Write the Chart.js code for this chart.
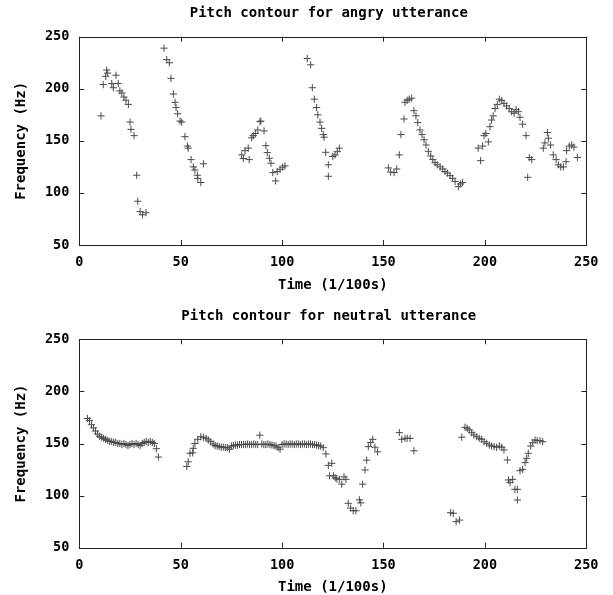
<!DOCTYPE html>
<html>
<head>
<meta charset="utf-8">
<script src="https://cdn.jsdelivr.net/npm/chart.js@4/dist/chart.umd.min.js"></script>
<style>
  html, body { margin: 0; padding: 0; background: #fff; }
  #wrap { position: relative; width: 613px; height: 595px; }
  .box { position: absolute; left: 0; width: 613px; }
</style>
</head>
<body>
<div id="wrap">
  <div class="box" style="top:0;height:298px;"><canvas id="c1"></canvas></div>
  <div class="box" style="top:298px;height:297px;"><canvas id="c2"></canvas></div>
</div>
<script>
// ---------- DATA ----------
const xTicks = [0, 50, 100, 150, 200, 250];
const yTicks = [50, 100, 150, 200, 250];

const angryTime = [
  10.7, 11.8, 13, 13.5, 14, 16, 16.8, 18.1, 19.2, 20, 21, 22, 23, 24.2, 25, 25.5, 27, 28.3, 28.8, 30, 31.2, 32.9,
  41.8, 43.1, 44.4, 45.2, 46.4, 47.2, 47.7, 48.5, 49.7, 50.5, 52.1, 53.3, 53.7, 55.1, 56.2, 57, 58.2, 58.4, 59.9, 61.2,
  80.1, 80.9, 81.7, 83.3, 83.8, 85, 85.8, 86.8, 88, 89.1, 89.5, 91.1, 92, 92.7, 93.7, 94.5, 95.4, 96.8, 97.6, 99, 100.3, 101.4,
  112.4, 114.1, 114.9, 115.9, 117, 117.6, 118.7, 119.5, 120.3, 120.7, 121.5, 122.8, 122.8, 125, 126.1, 127.2, 128.2,
  152.4, 153.5, 155.2, 156.5, 157.8, 158.6, 160.1, 160.6, 161.7, 162.7, 163.9, 165, 166, 166.9, 168, 169, 170, 171, 172.1,
  173.3, 174.3, 175.4, 176.5, 177.9, 179.2, 180.3, 181.5, 182.8, 184.1, 185.3, 186.9, 188, 189,
  196.7, 197.9, 198.9, 199.6, 200.5, 201.7, 202.5, 203.3, 204.1, 205, 206.1, 207.1, 208.3, 209.4, 210.7, 212, 213.2, 214.4,
  215.4, 216.5, 217.3, 218.6, 220.3, 221.1, 221.9, 223.1,
  228.8, 229.6, 230.8, 231.3, 232.4, 233.7, 235.1, 236.2, 237.4, 238.7, 240, 240.3, 241.6, 242.8, 243.9, 245.6
];
const angryFreq = [
  174, 204, 212, 218, 215, 205, 201, 213, 205, 198, 196, 192, 189, 185, 168, 161, 155, 117, 92, 82, 79, 81,
  239, 228, 225, 210, 195, 187, 182, 176, 169, 168, 154, 145, 143, 132, 125, 122, 117, 114, 110, 128,
  136.5, 133, 140.6, 143, 132, 153, 155, 157, 160.5, 168.4, 169, 159.5, 145.4, 138.7, 133.3, 128.5, 119.5, 111.5, 120.5, 122.7, 124.7, 126,
  229, 223, 201, 190, 182, 175, 168, 162, 156, 153.5, 139, 127, 116, 135, 136.5, 139.6, 143,
  124, 120, 119.5, 123, 136.5, 156, 171, 187, 189, 190, 191, 179, 174, 167.5, 160.5, 156, 151, 146, 140,
  135.5, 132, 129, 127, 125, 123, 120.5, 119, 116.6, 114, 111, 106, 108.6, 110,
  143, 131, 145, 155, 157, 149, 163.6, 170, 174, 181, 185, 190, 188.6, 186, 183.5, 181, 178, 176.5,
  180, 178, 172.6, 166, 155, 115, 134, 132,
  143, 148, 158, 152.5, 146, 136.5, 132, 127, 125, 125, 130, 140.6, 145, 146, 144, 134
];

const neutralTime = [
  4, 5, 6, 7, 8, 9, 10, 11, 12, 13, 14, 15, 16, 17, 18, 19, 20, 21, 22, 23, 24, 25, 26, 27, 28, 29, 30, 31, 32, 33, 34, 35, 36, 37, 38, 39,
  53, 53.7, 54.6, 55.9, 56.2, 57, 58.4, 59.9, 61.2, 62.5, 63.6, 64.8, 66, 67, 68, 69, 70, 71, 72, 73, 74, 75, 76, 77, 78, 79, 80,
  81, 82, 83, 84, 85, 86, 87, 88, 89, 90, 91, 92, 93, 94, 95, 96, 97, 98, 99, 100, 101, 102, 103, 104, 105, 106, 107, 108, 109,
  110, 111, 112, 113, 114, 115, 116, 117, 118, 119, 120.3, 121.6, 122.8, 123.4, 124.5, 125.3, 126.2, 127, 128.2, 129.4, 130.5,
  131.5, 132.6, 133.8, 135.1, 136.4, 138.1, 138.8, 139.7, 140.9, 141.7, 142.5, 143.7, 144.7, 145.8, 147.1,
  157.8, 159, 160.6, 161.7, 163.1, 165,
  183.1, 184.4, 185.8, 187.5,
  188.6, 190.2, 191.3, 192.3, 193.5, 194.6, 196, 197.2, 198.4, 199.6, 200.9, 202.2, 203.3, 204.5, 205.8, 207.1, 208.3, 209.4,
  211.1, 211.6, 212.4, 213.7, 214.8, 216, 216, 217.3, 218.6, 219.8, 220.6, 221.4, 222.6, 223.6, 224.7, 225.8, 227.2, 228.5
];
const neutralFreq = [
  174, 172, 168, 165, 162, 159, 157, 156, 155, 154, 153, 152, 152, 151, 151, 150, 150, 149, 150, 149, 148, 149, 150, 149, 150, 149, 148, 150, 151, 152, 151, 152, 151, 150, 145, 137,
  128, 132.5, 140.6, 141, 145.4, 150, 154, 156.5, 156, 155, 153.4, 151.7, 149.5, 148, 147.5, 147, 146.5, 146.5, 146, 146, 144.5, 147.5, 148, 148.5, 148.5, 149, 149,
  149, 149, 149.5, 149, 149, 149.5, 149, 149, 158, 149.5, 149, 149, 149.5, 149, 148.5, 148, 147.5, 146, 144.5, 149, 149.5, 149.5, 149, 149.5, 149.5, 149, 149.5, 149.5, 149,
  149.5, 149.5, 149, 149.5, 149.5, 149, 149, 148.5, 148, 147.5, 146, 140, 129, 119, 131, 119, 117, 116, 115.6, 111, 118,
  115.6, 92.6, 88, 85.5, 85.5, 96, 93, 111, 124.6, 134, 147, 151, 154, 146.4, 142,
  160.4, 154, 155, 155, 155, 143,
  83.6, 83, 75, 76.5,
  156, 165.6, 164.6, 163, 160.4, 158.2, 156.5, 155, 154, 151.7, 150.2, 148.6, 147.6, 147, 146.4, 147.6, 146.4, 143.8,
  134.2, 115, 112.4, 115.6, 106, 106, 95.8, 123.9, 125.2, 131.6, 135.8, 140.6, 147.6, 150.8, 153.4, 152.7, 152.7, 151.7
];

// ---------- CHART ----------
const FAMILY = '"DejaVu Sans Mono", "Liberation Mono", monospace';
const INK = '#000';

const frameTicks = {
  id: 'frameTicks',
  afterDatasetsDraw(chart, args, opts) {
    const {ctx, chartArea: a, scales} = chart;
    const L = 5;
    ctx.save();
    ctx.strokeStyle = '#222';
    ctx.lineWidth = 1;
    ctx.beginPath();
    scales.x.ticks.forEach(t => {
      const px = Math.round(scales.x.getPixelForValue(t.value)) + 0.5;
      ctx.moveTo(px, a.bottom); ctx.lineTo(px, a.bottom - L);
      ctx.moveTo(px, a.top); ctx.lineTo(px, a.top + L);
    });
    scales.y.ticks.forEach(t => {
      const py = Math.round(scales.y.getPixelForValue(t.value)) + 0.5;
      ctx.moveTo(a.left, py); ctx.lineTo(a.left + L, py);
      ctx.moveTo(a.right, py); ctx.lineTo(a.right - L, py);
    });
    ctx.stroke();
    ctx.strokeRect(Math.round(a.left) + 0.5, Math.round(a.top) + 0.5,
                   Math.round(a.right) - Math.round(a.left), Math.round(a.bottom) - Math.round(a.top));
    // plot title, centred over the plot area (gnuplot style)
    ctx.fillStyle = INK;
    ctx.font = 'bold 14px ' + FAMILY;
    ctx.textAlign = 'center';
    ctx.textBaseline = 'middle';
    ctx.fillText(opts.text, (a.left + a.right) / 2 - 4, opts.y);
    ctx.restore();
  }
};

function makeChart(id, title, times, freqs, cfg) {
  const pts = times.map((t, i) => ({x: t, y: freqs[i]}));
  return new Chart(document.getElementById(id), {
    type: 'scatter',
    data: {
      datasets: [{
        data: pts,
        pointStyle: 'cross',
        pointRadius: 3.6,
        pointBorderWidth: 1,
        borderColor: '#4a4a4a',
        backgroundColor: '#4a4a4a',
        showLine: false
      }]
    },
    plugins: [frameTicks],
    options: {
      responsive: true,
      maintainAspectRatio: false,
      animation: false,
      events: [],
      layout: { padding: { left: 0, right: 26.7, top: cfg.top, bottom: 0 } },
      plugins: {
        legend: { display: false },
        tooltip: { enabled: false },
        title: { display: false },
        frameTicks: { text: title, y: cfg.titleY }
      },
      scales: {
        x: {
          type: 'linear',
          min: xTicks[0],
          max: xTicks[xTicks.length - 1],
          afterBuildTicks(s) { s.ticks = xTicks.map(v => ({value: v})); },
          afterFit(s) { s.height = cfg.xHeight; },
          grid: { display: false, drawTicks: false },
          border: { display: false },
          ticks: {
            color: INK,
            padding: cfg.xTickPad,
            maxRotation: 0,
            font: { family: FAMILY, size: 13.5, weight: 'bold', lineHeight: 1 }
          },
          title: {
            display: true,
            text: 'Time (1/100s)',
            color: INK,
            font: { family: FAMILY, size: 14, weight: 'bold', lineHeight: 1 },
            padding: { top: 0, bottom: cfg.xTitleBottom }
          }
        },
        y: {
          type: 'linear',
          min: yTicks[0],
          max: yTicks[yTicks.length - 1],
          afterBuildTicks(s) { s.ticks = yTicks.map(v => ({value: v})); },
          afterFit(s) { s.width = 79.3; },
          grid: { display: false, drawTicks: false },
          border: { display: false },
          ticks: {
            color: INK,
            padding: 10,
            font: { family: FAMILY, size: 13.5, weight: 'bold', lineHeight: 1 }
          },
          title: {
            display: true,
            text: 'Frequency (Hz)',
            color: INK,
            font: { family: FAMILY, size: 14, weight: 'bold', lineHeight: 1 },
            padding: { top: 14, bottom: 0 }
          }
        }
      }
    }
  });
}

makeChart('c1', 'Pitch contour for angry utterance', angryTime, angryFreq,
  { top: 36.7, titleY: 13, xHeight: 53, xTickPad: 11.2, xTitleBottom: 6 });
makeChart('c2', 'Pitch contour for neutral utterance', neutralTime, neutralFreq,
  { top: 41.3, titleY: 18, xHeight: 47.3, xTickPad: 11.5, xTitleBottom: 1 });
</script>
</body>
</html>
